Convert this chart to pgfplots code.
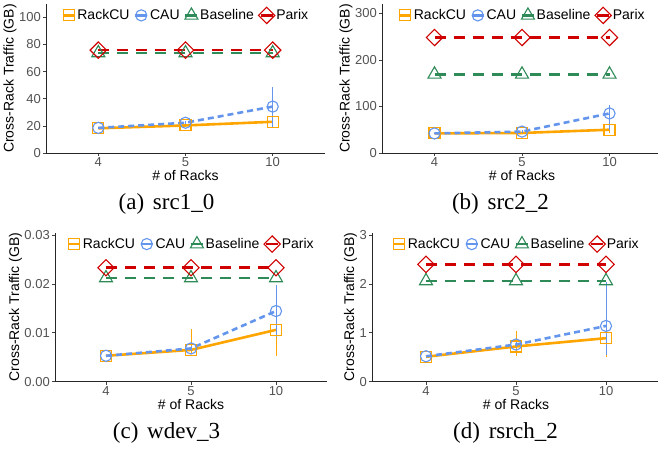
\documentclass[border=0pt]{standalone}
\usepackage{pgfplots}
\pgfplotsset{compat=1.18}
\usepackage{fontspec}
\setmainfont{Liberation Sans}
\newfontfamily\capfont{Liberation Serif}

\definecolor{cOrange}{HTML}{FFA500}
\definecolor{cBlue}{HTML}{6495ED}
\definecolor{cGreen}{HTML}{2E8B57}
\definecolor{cRed}{HTML}{D00000}

\pgfplotsset{
  panel/.style={
    scale only axis, height=149pt,
    axis lines=left, axis line style={-, line width=0.8pt, black!85},
    xmin=-0.6, xmax=2.6, xtick={0,1,2}, xticklabels={4,5,10},
    ymin=0,
    tick align=outside, major tick length=3pt,
    tick style={black!75, line width=0.6pt},
    ticklabel style={font=\fontsize{13}{15}\selectfont, text=black!68},
    yticklabel style={inner xsep=2pt},
    xticklabel style={inner ysep=1.5pt},
    /pgf/number format/assume math mode=true,
    xlabel={\# of Racks}, ylabel={Cross-Rack Traffic (GB)},
    label style={font=\fontsize{14}{16}\selectfont},
    xlabel style={yshift=1.5pt}, ylabel style={yshift=-3pt},
    legend style={at={(0.5,1)}, anchor=north, yshift=-3pt, draw=none, fill=none,
      legend columns=4, font=\fontsize{14}{16}\selectfont,
      /tikz/every even column/.append style={column sep=3pt},
      inner sep=0pt, nodes={inner sep=1.5pt}},
    legend image code/.code={\draw[mark repeat=2, mark phase=2, #1, solid]
      plot coordinates {(0pt,0pt) (6pt,0pt) (12pt,0pt)};},
  },
  rack/.style={cOrange, line width=2.6pt, solid, mark=square, mark size=5.5pt,
    mark options={solid, line width=1.1pt}},
  cau/.style={cBlue, line width=2.6pt, dash pattern=on 6pt off 4pt, mark=o, mark size=5.6pt,
    mark options={solid, line width=1.1pt}},
  base/.style={cGreen, line width=2.6pt, dash pattern=on 11pt off 8pt, mark=triangle, mark size=7.5pt,
    mark options={solid, line width=1.1pt}},
  parix/.style={cRed, line width=2.6pt, dash pattern=on 11pt off 8pt, mark=square, mark size=5.8pt,
    mark options={solid, rotate=45, line width=1.1pt}},
  err/.style={error bars/.cd, y dir=both, y explicit, error mark=none,
    error bar style={line width=0.8pt, solid}},
}

\begin{document}
\begin{tikzpicture}
\path[use as bounding box] (0pt,0pt) rectangle (658pt,449pt);

% (a) src1_0
\begin{axis}[panel, width=279pt, at={(46pt,296pt)}, anchor=south west,
  ymax=109.8, ytick={0,20,40,60,80,100}]
\addplot[rack, err] coordinates {(0,18.2) +- (0,0.5) (1,20.3) +- (0,0.8) (2,23.0) +- (0,3.5)};
\addlegendentry{RackCU}
\addplot[cau, err] coordinates {(0,18.5) +- (0,0.5) (1,22.3) +- (0,1.0) (2,34.2) += (0,14.3) -= (0,15.2)};
\addlegendentry{CAU}
\addplot[base] coordinates {(0,73.7) (1,73.7) (2,73.7)};
\addlegendentry{Baseline}
\addplot[parix] coordinates {(0,75.8) (1,75.8) (2,75.8)};
\addlegendentry{Parix}
\end{axis}

% (b) src2_2
\begin{axis}[panel, width=280pt, at={(382pt,296pt)}, anchor=south west,
  ymax=320, ytick={0,100,200,300}]
\addplot[rack, err] coordinates {(0,42) +- (0,1) (1,43) +- (0,2) (2,50) +- (0,6)};
\addlegendentry{RackCU}
\addplot[cau, err] coordinates {(0,42) +- (0,1) (1,46) +- (0,3) (2,85) += (0,18) -= (0,35)};
\addlegendentry{CAU}
\addplot[base] coordinates {(0,169) (1,169) (2,169)};
\addlegendentry{Baseline}
\addplot[parix] coordinates {(0,248) (1,248) (2,248)};
\addlegendentry{Parix}
\end{axis}

% (c) wdev_3
\begin{axis}[panel, width=272pt, at={(55pt,67.3pt)}, anchor=south west,
  ymax=0.03047, ytick={0,0.01,0.02,0.03}, scaled y ticks=false,
  yticklabel style={/pgf/number format/.cd, fixed, fixed zerofill, precision=2}]
\addplot[rack, err] coordinates {(0,0.0053) +- (0,0.0002) (1,0.0065) += (0,0.0042) -= (0,0.0008) (2,0.0106) += (0,0.0024) -= (0,0.0053)};
\addlegendentry{RackCU}
\addplot[cau, err] coordinates {(0,0.0053) +- (0,0.0002) (1,0.0068) +- (0,0.0005) (2,0.01445) +- (0,0.0053)};
\addlegendentry{CAU}
\addplot[base] coordinates {(0,0.0212) (1,0.0212) (2,0.0212)};
\addlegendentry{Baseline}
\addplot[parix] coordinates {(0,0.0233) (1,0.0233) (2,0.0233)};
\addlegendentry{Parix}
\end{axis}

% (d) rsrch_2
\begin{axis}[panel, width=288pt, at={(372pt,67.3pt)}, anchor=south west,
  ymax=3.047, ytick={0,1,2,3}]
\addplot[rack, err] coordinates {(0,0.51) +- (0,0.02) (1,0.72) += (0,0.32) -= (0,0.2) (2,0.89) += (0,0.39) -= (0,0.38)};
\addlegendentry{RackCU}
\addplot[cau, err] coordinates {(0,0.52) +- (0,0.02) (1,0.76) +- (0,0.05) (2,1.14) += (0,0.9) -= (0,0.6)};
\addlegendentry{CAU}
\addplot[base] coordinates {(0,2.06) (1,2.06) (2,2.06)};
\addlegendentry{Baseline}
\addplot[parix] coordinates {(0,2.40) (1,2.40) (2,2.40)};
\addlegendentry{Parix}
\end{axis}

\node[font=\capfont\fontsize{23}{26}\selectfont, anchor=base] at (166.5pt,239pt) {(a)\hspace{3pt} src1\_0};
\node[font=\capfont\fontsize{23}{26}\selectfont, anchor=base] at (500.5pt,239pt) {(b)\hspace{3pt} src2\_2};
\node[font=\capfont\fontsize{23}{26}\selectfont, anchor=base] at (166.5pt,10.3pt) {(c)\hspace{3pt} wdev\_3};
\node[font=\capfont\fontsize{23}{26}\selectfont, anchor=base] at (505.5pt,10.3pt) {(d)\hspace{3pt} rsrch\_2};
\end{tikzpicture}
\end{document}
